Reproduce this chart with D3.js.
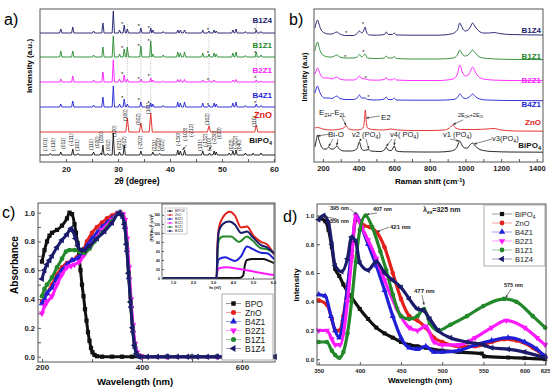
<!DOCTYPE html>
<html>
<head>
<meta charset="utf-8">
<script src="https://cdn.jsdelivr.net/npm/d3@7"></script>
<style>
body { margin: 0; background: #fff; }
svg { font-family: "Liberation Sans", Arial, sans-serif; }
</style>
</head>
<body>
<svg id="fig" width="550" height="391"></svg>
<script>
// ---------- shared ----------
const samples = ["BiPO4", "ZnO", "B4Z1", "B2Z1", "B1Z1", "B1Z4"];
const colors  = ["#111111", "#e3201b", "#1f1fd6", "#ff19ff", "#22882a", "#1b1b6b"];

// ---------- a) XRD : peaks [2theta, height] ----------
const xrdBiPO4 = [[17.0,1.5],[19.0,3],[21.3,6],[22.3,1.5],[25.3,3],[26.7,2],[27.1,10],[28.0,1.5],[29.1,22],[30.3,3],[31.2,10],[34.4,4],[36.7,3],[38.0,1.5],[41.5,5],[42.0,4],[42.8,5],[46.3,4],[47.6,2],[48.5,4],[48.9,3],[51.4,2],[52.1,4],[52.7,5],[54.5,2],[56.0,2],[57.5,2]];
const xrdZnO   = [[31.8,14],[34.4,9],[36.3,19],[47.5,6],[56.6,7]];
const xrdB4Z1  = [[19.0,3],[21.3,6],[25.3,2],[27.1,10],[29.1,21],[30.3,3],[31.2,8],[31.8,3],[34.4,5],[36.3,4],[36.7,3],[38.7,1.5],[41.5,5],[42.0,4],[42.8,5],[46.3,4],[47.5,2],[48.5,4],[48.9,3],[52.1,4],[52.7,5],[54.5,1.5],[56.6,3],[57.5,1.5]];
const xrdB2Z1  = [[19.0,3],[21.3,6],[25.3,2],[27.1,10],[29.1,22],[30.3,3],[31.2,7],[31.8,3],[34.4,3],[36.3,4],[36.7,2],[38.7,1],[41.5,2.5],[42.0,2.5],[42.8,2.5],[46.3,2],[47.5,1.5],[48.5,2],[52.1,2],[52.7,2.5],[56.6,2],[57.5,1]];
const xrdB1Z1  = [[19.0,6],[21.3,6],[25.3,2],[27.1,10],[29.1,21],[30.3,3],[31.2,8],[31.8,10],[34.4,11],[36.3,16],[36.7,3],[38.7,2],[41.5,5],[42.0,4],[42.8,5],[46.3,4],[47.5,3],[48.5,4],[48.9,3],[52.1,4],[52.7,5],[54.5,1.5],[56.6,5],[57.5,2]];
const xrdB1Z4  = [[19.0,4],[21.3,6],[25.3,2],[27.1,10],[29.1,22],[30.3,3],[31.2,8],[31.8,4],[34.4,5],[36.3,5],[36.7,3],[38.7,1.5],[41.5,3],[42.0,3],[42.8,3],[46.3,3],[47.5,2],[48.5,3],[48.9,2],[52.1,3],[52.7,4],[54.5,1.5],[56.6,3],[57.5,1.5]];
const xrdOffset = [7, 30, 55, 80, 105, 129];
const znoLines = [31.8, 34.4, 36.3, 47.5, 56.6];
const starPos  = [30.8, 34.0, 35.9, 47.3, 56.4];
const starLift = [null, null, [10,8,5,3,5], [9,4,7,3,5], [10,12,17,5,5], [10,8,6,4,4]];
const hklBiPO4 = [["(-101)",16.0,151],["(-110)",17.5,151],["(011)",19.4,149],["(-111)",21.0,146],["(101)",22.2,151],["(111)",24.8,150],["(020)",26.0,148],["(200)",26.8,143],["(002)",28.1,151],["(120)",29.2,137],["(021)",30.2,150],["(012)",31.2,148],["(-202)",34.3,149],["(211)",37.0,151],["(-220)",37.8,151],["(022)",38.6,151],["(-130)",41.6,146],["(-103)",43.0,141],["(-212)",44.0,137],["(131)",45.9,151],["(-132)",46.7,147],["(-310)",47.6,151],["(-230)",48.6,144],["(033)",49.5,139],["(023)",51.7,151],["(-322)",52.6,149],["(040)",53.4,151]];
const hklZnO = [["(100)",31.3,121],["(002)",33.9,125],["(101)",35.8,114],["(102)",47.1,125],["(110)",56.2,127]];

// ---------- b) Raman : [shift, intensity] ----------
const ramBiPO4 = [[155,6],[162,12],[170,18],[178,13],[190,7],[205,4],[220,4],[232,6],[245,4],[260,4],[278,7],[292,4],[320,2],[360,2],[390,4],[405,11],[415,5],[430,2.5],[455,3.5],[470,2],[520,1.5],[545,3],[555,6],[565,3],[585,2.5],[600,7],[612,2],[650,1.2],[750,1],[850,1],[920,2],[950,5],[968,12],[980,8],[995,5],[1010,5],[1025,8],[1040,10],[1055,7],[1075,4],[1100,2.5],[1150,1.5],[1250,1],[1435,0.8]];
const ramZnO   = [[155,4],[170,4.5],[200,3],[250,2],[300,3],[320,4.5],[332,6],[345,3],[380,2],[410,2.5],[428,5],[434,14],[438,22],[442,13],[450,4],[480,2.5],[540,2],[580,3],[620,2],[700,1.5],[800,1.5],[880,2],[910,4],[930,7],[945,4],[980,2.5],[1050,2.5],[1120,3],[1160,3.5],[1200,2],[1280,1],[1435,0.8]];
const ramB4Z1  = [[155,8],[162,12],[170,15],[178,11],[190,6],[210,3],[232,3],[250,2.5],[278,5],[295,2.5],[330,1.5],[370,1.5],[392,3],[405,6],[416,3],[437,3],[450,1.5],[500,1],[545,2],[555,4],[567,1.5],[590,1.5],[600,3],[612,1],[700,0.8],[850,0.8],[930,1.5],[955,3.5],[968,7],[985,3.5],[1000,2.5],[1025,4.5],[1040,7],[1058,4],[1080,2],[1120,1],[1250,0.5],[1435,0.3]];
const ramB2Z1  = [[155,7],[162,10],[170,13],[178,10],[190,5],[210,3],[232,3],[250,2],[278,4],[295,2],[330,1],[370,1],[392,2.5],[405,5],[416,2.5],[440,2],[460,1],[500,0.8],[545,1.5],[555,3.5],[567,1.2],[590,1.2],[600,2.5],[612,1],[700,0.5],[850,0.5],[930,2],[955,7],[968,16],[982,9],[998,5],[1015,6],[1030,11],[1040,14],[1055,9],[1075,4],[1100,2],[1150,1],[1250,0.5],[1435,0.3]];
const ramB1Z1  = [[155,9],[162,15],[170,18],[178,13],[190,7],[210,4],[232,3],[250,3],[278,5],[295,3],[325,2],[370,2],[392,3],[405,5.5],[418,3],[437,6],[450,2],[500,1.5],[545,2],[555,4],[567,2],[590,2],[600,3.5],[612,1.5],[700,1],[850,1],[930,2],[955,5],[968,10],[982,6],[998,4],[1015,5],[1030,8],[1040,10],[1055,7],[1075,3.5],[1100,2],[1150,1.2],[1250,0.6],[1435,0.4]];
const ramB1Z4  = [[155,8],[162,13],[170,16],[178,12],[190,6],[210,3],[232,2],[250,2],[278,4],[295,2],[330,0.5],[370,0.5],[392,2.5],[405,5],[418,3],[430,6],[437,9],[444,4],[460,1],[500,0.8],[545,1.5],[555,4],[567,1.5],[590,1.5],[600,3],[612,1],[700,0.8],[850,0.8],[920,2],[955,6],[968,13],[982,8],[998,5],[1015,6],[1030,10],[1040,13],[1055,9],[1075,5],[1100,3],[1130,3],[1160,3.5],[1190,2.5],[1250,1.5],[1435,1]];
const ramOffset = [9, 30, 61, 81, 102, 126];
const ramStars  = [[2,455,5],[3,440,4],[4,325,4],[4,428,9],[5,330,4],[5,425,13]];

// ---------- c) UV-vis absorbance : [nm, abs] ----------
const absBiPO4 = [[200,0.66],[205,0.74],[210,0.8],[215,0.84],[220,0.86],[230,0.88],[240,0.91],[250,0.96],[255,1.0],[260,0.99],[265,0.92],[268,0.86],[271,0.79],[274,0.7],[277,0.6],[280,0.5],[283,0.42],[286,0.33],[289,0.25],[292,0.17],[295,0.11],[298,0.06],[301,0.03],[305,0.012],[310,0.003],[320,0],[340,0],[360,0],[380,0],[400,0]];
const absZnO   = [[200,0.38],[210,0.44],[220,0.5],[230,0.57],[240,0.62],[250,0.65],[260,0.67],[270,0.69],[280,0.72],[290,0.8],[300,0.86],[310,0.9],[320,0.93],[330,0.96],[340,0.98],[350,0.995],[357,1.0],[362,0.97],[366,0.9],[370,0.75],[374,0.55],[378,0.35],[382,0.18],[386,0.07],[390,0.02],[395,0.005],[400,0],[450,0],[500,0],[550,0],[600,0],[660,0]];
const absB4Z1  = [[200,0.37],[205,0.4],[210,0.44],[220,0.48],[230,0.55],[240,0.6],[250,0.64],[260,0.67],[270,0.68],[280,0.72],[290,0.77],[300,0.82],[310,0.86],[320,0.9],[330,0.93],[340,0.96],[350,0.99],[356,1.0],[362,0.97],[366,0.9],[370,0.74],[374,0.55],[378,0.35],[382,0.18],[386,0.07],[390,0.02],[396,0],[450,0],[500,0],[550,0],[600,0],[660,0]];
const absB2Z1  = [[200,0.3],[205,0.35],[210,0.38],[220,0.42],[230,0.5],[240,0.57],[250,0.62],[258,0.63],[265,0.64],[275,0.66],[285,0.71],[300,0.78],[320,0.88],[340,0.95],[355,1.0],[362,0.99],[366,0.95],[370,0.82],[374,0.62],[378,0.4],[382,0.22],[386,0.09],[390,0.03],[396,0.005],[400,0],[450,0],[500,0],[550,0],[600,0],[660,0]];
const absB1Z1  = [[200,0.42],[205,0.47],[210,0.5],[220,0.55],[230,0.62],[240,0.68],[248,0.73],[255,0.74],[265,0.74],[275,0.73],[285,0.72],[295,0.75],[305,0.8],[320,0.86],[340,0.94],[355,1.0],[360,0.98],[365,0.92],[369,0.78],[373,0.58],[377,0.38],[381,0.2],[385,0.08],[389,0.02],[395,0],[450,0],[500,0],[550,0],[600,0],[660,0]];
const absB1Z4  = [[200,0.54],[205,0.6],[210,0.64],[215,0.67],[220,0.7],[230,0.76],[240,0.81],[250,0.85],[258,0.89],[262,0.87],[267,0.82],[272,0.77],[278,0.74],[285,0.74],[295,0.77],[310,0.82],[325,0.87],[340,0.93],[355,1.0],[360,0.98],[365,0.92],[369,0.78],[373,0.58],[377,0.38],[381,0.2],[385,0.08],[389,0.02],[395,0],[410,0],[430,0],[450,0],[470,0],[490,0],[510,0],[530,0],[550,0],[570,0],[590,0],[610,0],[630,0],[650,0],[666,0]];

// inset: Tauc plot [eV, value]
const taucBiPO4 = [[0.5,0],[4.3,0],[4.5,5],[4.6,30],[4.7,40],[5.0,42],[5.5,42],[5.8,38],[6.05,33]];
const taucZnO   = [[0.5,0],[3.18,0],[3.22,70],[3.3,112],[3.5,135],[3.85,147],[4.1,138],[4.4,112],[4.7,114],[5.0,95],[5.4,80],[5.7,75],[6.05,52]];
const taucB4Z1  = [[0.5,0],[3.18,0],[3.22,30],[3.3,42],[3.6,46],[4.1,38],[4.4,48],[4.7,70],[5.0,64],[5.4,56],[5.7,55],[6.05,42]];
const taucB2Z1  = [[0.5,0],[3.18,0],[3.22,15],[3.3,22],[3.7,24],[4.1,22],[4.6,18],[5.2,13],[5.7,9],[6.05,7]];
const taucB1Z1  = [[0.5,0],[3.18,0],[3.22,50],[3.3,85],[3.5,92],[3.9,92],[4.3,80],[4.7,92],[5.0,82],[5.4,66],[5.7,64],[6.05,55]];
const taucB1Z4  = [[0.5,0],[3.18,0],[3.22,60],[3.3,105],[3.5,120],[3.8,125],[4.1,118],[4.4,100],[4.7,103],[5.0,90],[5.4,73],[5.7,68],[6.05,55]];

// ---------- d) PL : [nm, intensity] ----------
const plBiPO4 = [[352,0.98],[358,0.96],[362,0.9],[366,0.78],[370,0.63],[375,0.58],[380,0.52],[390,0.43],[400,0.35],[410,0.28],[420,0.22],[430,0.18],[440,0.15],[450,0.12],[460,0.1],[470,0.09],[480,0.08],[500,0.06],[520,0.05],[548,0.04],[551,0.02],[580,0.012],[600,0.008],[625,0.0]];
const plZnO   = [[350,0.41],[360,0.38],[366,0.28],[370,0.2],[375,0.2],[380,0.3],[385,0.5],[390,0.72],[395,0.97],[400,0.96],[405,0.93],[412,0.92],[421,0.88],[430,0.78],[440,0.6],[450,0.42],[460,0.3],[470,0.27],[480,0.22],[490,0.15],[500,0.12],[520,0.09],[540,0.09],[560,0.12],[575,0.14],[590,0.13],[610,0.08],[625,0.02]];
const plB4Z1  = [[350,0.45],[358,0.44],[365,0.3],[370,0.2],[375,0.15],[380,0.28],[385,0.5],[390,0.76],[396,1.0],[402,0.92],[410,0.8],[420,0.65],[430,0.48],[440,0.3],[450,0.15],[460,0.08],[470,0.07],[480,0.09],[490,0.05],[500,0.05],[520,0.06],[540,0.1],[560,0.13],[580,0.15],[600,0.12],[615,0.07],[625,0.02]];
const plB2Z1  = [[350,0.2],[360,0.2],[366,0.14],[370,0.1],[376,0.1],[385,0.4],[390,0.7],[395,1.0],[402,0.92],[410,0.83],[420,0.7],[430,0.55],[445,0.35],[460,0.22],[470,0.2],[480,0.23],[490,0.12],[500,0.1],[520,0.1],[540,0.15],[560,0.22],[578,0.27],[600,0.22],[615,0.15],[625,0.1]];
const plB1Z1  = [[350,0.12],[360,0.12],[366,0.06],[370,0.03],[375,0.01],[380,0.05],[385,0.18],[390,0.4],[395,0.68],[400,0.9],[407,1.0],[415,0.92],[425,0.75],[432,0.62],[440,0.45],[450,0.3],[460,0.28],[470,0.3],[478,0.35],[485,0.25],[495,0.2],[510,0.24],[530,0.3],[550,0.37],[575,0.42],[590,0.4],[610,0.3],[625,0.22]];
const plB1Z4  = [[350,0.97],[356,1.0],[362,0.95],[366,0.8],[370,0.65],[378,0.61],[385,0.7],[390,0.85],[395,0.82],[400,0.67],[410,0.62],[420,0.68],[430,0.6],[440,0.55],[450,0.5],[460,0.42],[470,0.35],[477,0.34],[485,0.28],[495,0.2],[510,0.15],[530,0.12],[550,0.1],[560,0.08],[580,0.07],[600,0.05],[625,0.01]];

// ---------- helpers ----------
const svg = d3.select("#fig");

function frame(x0, y0, x1, y1, col) {
  svg.append("rect")
    .attr("x", x0).attr("y", y0).attr("width", x1 - x0).attr("height", y1 - y0)
    .attr("fill", "none").attr("stroke", col || "#444").attr("stroke-width", 0.9);
}

function styleAxis(g, fs) {
  g.select(".domain").remove();
  g.selectAll("line").attr("stroke", "#333").attr("stroke-width", 0.8);
  g.selectAll("text").attr("font-size", fs).attr("font-weight", "bold").attr("fill", "#222");
}

// text with sub/superscripts: parts = ["txt", ["4","sub"], ...]
function rich(g, x, y, parts, fs, attrs) {
  const t = g.append("text").attr("x", x).attr("y", y).attr("font-size", fs);
  Object.entries(attrs || {}).forEach(([k, v]) => t.attr(k, v));
  parts.forEach(p => {
    if (typeof p === "string") t.append("tspan").text(p);
    else t.append("tspan").attr("baseline-shift", p[1] === "sub" ? "-30%" : "40%")
      .attr("font-size", fs * 0.7).text(p[0]);
  });
  return t;
}
function nameParts(s) { return s === "BiPO4" ? ["BiPO", ["4", "sub"]] : [s]; }

function arrow(g, x1, y1, x2, y2) {
  g.append("line").attr("x1", x1).attr("y1", y1).attr("x2", x2).attr("y2", y2)
    .attr("stroke", "#333").attr("stroke-width", 0.6);
  const a = Math.atan2(y2 - y1, x2 - x1);
  const p = [[x2, y2], [x2 - 3 * Math.cos(a - 0.4), y2 - 3 * Math.sin(a - 0.4)], [x2 - 3 * Math.cos(a + 0.4), y2 - 3 * Math.sin(a + 0.4)]];
  g.append("path").attr("d", d3.line()(p) + "Z").attr("fill", "#333");
}

const symTypes = [d3.symbolSquare, d3.symbolCircle, d3.symbolTriangle, d3.symbolTriangle, d3.symbolCircle, d3.symbolTriangle];
const symRot = [0, 0, 0, 180, 0, -90];

// =============== panel a ===============
const xA = d3.scaleLinear().domain([15, 60.2]).range([40, 275]);
const yA = d3.scaleLinear().domain([0, 153]).range([162, 9]);
const gA = svg.append("g");
const xrdAll = [xrdBiPO4, xrdZnO, xrdB4Z1, xrdB2Z1, xrdB1Z1, xrdB1Z4];

// dotted guides through the ZnO reflections
znoLines.forEach(v => {
  gA.append("line").attr("x1", xA(v)).attr("x2", xA(v)).attr("y1", 126).attr("y2", 24)
    .attr("stroke", "#999").attr("stroke-width", 0.6).attr("stroke-dasharray", "1,1.3");
});

xrdAll.forEach((peaks, i) => {
  const w = i === 1 ? 0.3 : 0.22;
  const pts = [[15, 0]];
  peaks.forEach(([p, h]) => pts.push([p - w, 0], [p, h], [p + w, 0]));
  pts.push([60.2, 0]);
  gA.append("path").datum(pts)
    .attr("d", d3.line().x(d => xA(d[0])).y(d => yA(d[1] + xrdOffset[i])))
    .attr("fill", "none").attr("stroke", colors[i]).attr("stroke-width", 0.9);
});

starLift.forEach((lifts, i) => {
  if (!lifts) return;
  lifts.forEach((l, k) => {
    gA.append("text").attr("x", xA(starPos[k])).attr("y", yA(xrdOffset[i] + l) + 3)
      .attr("text-anchor", "middle").attr("font-size", 6).attr("fill", "#222").text("*");
  });
});

hklBiPO4.forEach(([t, v, yb]) => {
  gA.append("text").attr("transform", `translate(${xA(v) + 1.8},${yb}) rotate(-90)`)
    .attr("font-size", 5).attr("fill", "#222").text(t);
});
hklZnO.forEach(([t, v, yb]) => {
  gA.append("text").attr("transform", `translate(${xA(v) + 1.8},${yb}) rotate(-90)`)
    .attr("font-size", 5).attr("fill", "#222").text(t);
});
// little arrows to the crowded hkl groups
arrow(gA, xA(43.2), 145, xA(42.4), 150);
arrow(gA, xA(48.0), 146, xA(47.5), 150);

const labA = [[143, "BiPO4"], [118, "ZnO"], [98, "B4Z1"], [73, "B2Z1"], [48, "B1Z1"], [23, "B1Z4"]];
labA.forEach(([y, s]) => {
  const i = samples.indexOf(s);
  rich(gA, 272, y, nameParts(s), s === "ZnO" ? 9 : 8,
    { "text-anchor": "end", "font-weight": "bold", fill: colors[i] });
});

frame(40, 9, 275, 162);
const axA = gA.append("g").attr("transform", "translate(0,162)")
  .call(d3.axisBottom(xA).tickValues([20, 25, 30, 35, 40, 45, 50, 55, 60])
    .tickSize(-3).tickPadding(4).tickFormat(d => d % 10 === 0 ? d : ""));
styleAxis(axA, 8);
gA.append("text").attr("x", 137).attr("y", 184).attr("text-anchor", "middle")
  .attr("font-size", 8.5).attr("font-weight", "bold").text("2θ (degree)");
gA.append("text").attr("transform", "translate(32,66) rotate(-90)").attr("text-anchor", "middle")
  .attr("font-size", 8).attr("font-weight", "bold").text("Intensity (a.u.)");
gA.append("text").attr("x", 4).attr("y", 25).attr("font-size", 16).text("a)");

// =============== panel b ===============
const xB = d3.scaleLinear().domain([150, 1435]).range([314, 543]);
const yB = d3.scaleLinear().domain([0, 153]).range([162, 9]);
const gB = svg.append("g");
const ramAll = [ramBiPO4, ramZnO, ramB4Z1, ramB2Z1, ramB1Z1, ramB1Z4];

ramAll.forEach((pts, i) => {
  gB.append("path").datum(pts)
    .attr("d", d3.line().curve(d3.curveMonotoneX).x(d => xB(d[0])).y(d => yB(d[1] + ramOffset[i])))
    .attr("fill", "none").attr("stroke", colors[i]).attr("stroke-width", 0.9);
});
ramStars.forEach(([i, v, l]) => {
  gB.append("text").attr("x", xB(v)).attr("y", yB(ramOffset[i] + l) + 3)
    .attr("text-anchor", "middle").attr("font-size", 6).attr("fill", "#222").text("*");
});

const labB = [[148, "BiPO4"], [125, "ZnO"], [107, "B4Z1"], [83, "B2Z1"], [59, "B1Z1"], [33, "B1Z4"]];
labB.forEach(([y, s]) => {
  const i = samples.indexOf(s);
  rich(gB, 541, y, nameParts(s), 8, { "text-anchor": "end", "font-weight": "bold", fill: colors[i] });
});

// mode annotations
rich(gB, 319, 115, ["E", ["2H", "sub"], "-E", ["2L", "sub"]], 8, { fill: "#222" });
arrow(gB, 342, 117, xB(330), yB(30 + 6.5));
rich(gB, 381, 120, ["E2"], 8, { fill: "#222" });
arrow(gB, 380, 116, xB(442), yB(30 + 14));
rich(gB, 458, 117, ["2E", ["2H", "sub"], "+2E", ["2L", "sub"]], 5.5, { fill: "#222" });
arrow(gB, 463, 120, xB(930), yB(30 + 7.5));
rich(gB, 328, 137, ["Bi-O"], 8, { fill: "#222" });
arrow(gB, 330, 134, xB(170), yB(9 + 17));
arrow(gB, 333, 139, xB(232), yB(9 + 6.5));
arrow(gB, 338, 139, xB(278), yB(9 + 7.5));
rich(gB, 352, 137, ["v2 (PO", ["4", "sub"], ")"], 7.5, { fill: "#222" });
arrow(gB, 361, 139, xB(405), yB(9 + 11.5));
arrow(gB, 366, 139, xB(458), yB(9 + 4));
rich(gB, 390, 137, ["v4( PO", ["4", "sub"], ")"], 7.5, { fill: "#222" });
arrow(gB, 392, 139, xB(555), yB(9 + 6.5));
arrow(gB, 395, 139, xB(600), yB(9 + 7.5));
rich(gB, 443, 137, ["v1 (PO", ["4", "sub"], ")"], 7.5, { fill: "#222" });
arrow(gB, 450, 139, xB(965), yB(9 + 12));
rich(gB, 492, 141, ["v3(PO", ["4", "sub"], ")"], 7.5, { fill: "#222" });
arrow(gB, 492, 139, xB(1048), yB(9 + 9));

frame(314, 9, 543, 162);
const axB = gB.append("g").attr("transform", "translate(0,162)")
  .call(d3.axisBottom(xB).tickValues(d3.range(200, 1401, 100))
    .tickSize(-3).tickPadding(4).tickFormat(d => d % 200 === 0 ? d : ""));
styleAxis(axB, 7.5);
rich(gB, 430, 184, ["Raman shift (cm", ["-1", "sup"], ")"], 8, { "text-anchor": "middle", "font-weight": "bold" });
gB.append("text").attr("transform", "translate(307,77) rotate(-90)").attr("text-anchor", "middle")
  .attr("font-size", 7.5).attr("font-weight", "bold").text("Intensity (a.u)");
gB.append("text").attr("x", 289).attr("y", 25).attr("font-size", 16).text("b)");

// =============== panel c ===============
const xC = d3.scaleLinear().domain([192, 666]).range([38, 275]);
const yC = d3.scaleLinear().domain([-0.037, 1.067]).range([362, 203]);
const gC = svg.append("g");
const absAll = [absBiPO4, absZnO, absB4Z1, absB2Z1, absB1Z1, absB1Z4];

absAll.forEach((pts, i) => {
  gC.append("path").datum(pts)
    .attr("d", d3.line().curve(d3.curveMonotoneX).x(d => xC(d[0])).y(d => yC(d[1])))
    .attr("fill", "none").attr("stroke", colors[i]).attr("stroke-width", 3);
  gC.selectAll(null).data(pts).join("path")
    .attr("transform", d => `translate(${xC(d[0])},${yC(d[1])}) rotate(${symRot[i]})`)
    .attr("d", d3.symbol(symTypes[i], 18)).attr("fill", colors[i]);
});

frame(38, 203, 275, 362);
const axCx = gC.append("g").attr("transform", "translate(0,362)")
  .call(d3.axisBottom(xC).tickValues([200, 300, 400, 500, 600])
    .tickSize(-3).tickPadding(2).tickFormat(d => d % 200 === 0 ? d : ""));
styleAxis(axCx, 8);
gC.append("text").attr("x", 135).attr("y", 385).attr("text-anchor", "middle")
  .attr("font-size", 9.5).attr("font-weight", "bold").text("Wavelength (nm)");
const axCy = gC.append("g").attr("transform", "translate(38,0)")
  .call(d3.axisLeft(yC).tickValues(d3.range(0, 1.01, 0.1))
    .tickSize(-3).tickPadding(3).tickFormat(d => Math.round(d * 10) % 2 === 0 ? d3.format(".1f")(d) : ""));
styleAxis(axCy, 7.5);
gC.append("text").attr("transform", "translate(18,265) rotate(-90)").attr("text-anchor", "middle")
  .attr("font-size", 10).attr("font-weight", "bold").text("Absorbance");
gC.append("text").attr("x", 2).attr("y", 218).attr("font-size", 16).text("c)");

// legend c (drawn after the curves, on top)
const legC = svg.append("g");
legC.append("rect").attr("x", 222).attr("y", 294).attr("width", 51).attr("height", 66)
  .attr("fill", "#fff").attr("stroke", "#888").attr("stroke-width", 0.7);
["BPO", "ZnO", "B4Z1", "B2Z1", "B1Z1", "B1Z4"].forEach((s, i) => {
  const y = 303.5 + i * 9;
  legC.append("line").attr("x1", 226).attr("x2", 241).attr("y1", y).attr("y2", y)
    .attr("stroke", colors[i]).attr("stroke-width", 0.7).attr("opacity", 0.6);
  legC.append("path").attr("transform", `translate(233.5,${y}) rotate(${symRot[i]})`)
    .attr("d", d3.symbol(symTypes[i], 20)).attr("fill", colors[i]);
  legC.append("text").attr("x", 245).attr("y", y + 3).attr("font-size", 8.5).attr("fill", "#222").text(s);
});

// inset (Tauc)
const xI = d3.scaleLinear().domain([0.45, 6.05]).range([162, 274]);
const yI = d3.scaleLinear().domain([-2, 164]).range([279, 204]);
const gI = svg.append("g");
gI.append("rect").attr("x", 162).attr("y", 204).attr("width", 112).attr("height", 75).attr("fill", "#fff");
[taucBiPO4, taucZnO, taucB4Z1, taucB2Z1, taucB1Z1, taucB1Z4].forEach((pts, i) => {
  gI.append("path").datum(pts)
    .attr("d", d3.line().curve(d3.curveMonotoneX).x(d => xI(d[0])).y(d => yI(d[1])))
    .attr("fill", "none").attr("stroke", colors[i]).attr("stroke-width", 2);
});
frame(162, 204, 274, 279, "#555");
const axIx = gI.append("g").attr("transform", "translate(0,279)")
  .call(d3.axisBottom(xI).tickValues([1, 2, 3, 4, 5, 6]).tickSize(-2).tickPadding(2));
styleAxis(axIx, 4);
const axIy = gI.append("g").attr("transform", "translate(162,0)")
  .call(d3.axisLeft(yI).tickValues(d3.range(0, 141, 20)).tickSize(-2).tickPadding(2));
styleAxis(axIy, 3.5);
gI.append("text").attr("x", 215).attr("y", 289).attr("text-anchor", "middle")
  .attr("font-size", 3.5).attr("font-weight", "bold").text("hν (eV)");
rich(gI, 0, 0, ["[F(R)hν]", ["2", "sup"], " (eV)", ["2", "sup"]], 4,
  { transform: "translate(153,228) rotate(-90)", "text-anchor": "middle", "font-weight": "bold" });
gI.append("rect").attr("x", 165).attr("y", 208).attr("width", 22).attr("height", 26)
  .attr("fill", "#fff").attr("stroke", "#888").attr("stroke-width", 0.4);
["BiPO4", "ZnO", "B4Z1", "B2Z1", "B1Z1", "B1Z4"].forEach((s, i) => {
  const y = 211 + i * 4;
  gI.append("line").attr("x1", 167).attr("x2", 173).attr("y1", y).attr("y2", y)
    .attr("stroke", colors[i]).attr("stroke-width", 0.7);
  gI.append("circle").attr("cx", 170).attr("cy", y).attr("r", 0.9).attr("fill", colors[i]);
  gI.append("text").attr("x", 175).attr("y", y + 1.2).attr("font-size", 3.3).attr("fill", "#333").text(s);
});

// =============== panel d ===============
const xD = d3.scaleLinear().domain([348, 626]).range([317, 546]);
const yD = d3.scaleLinear().domain([-0.04, 1.08]).range([365, 204]);
const gD = svg.append("g");
const plAll = [plBiPO4, plZnO, plB4Z1, plB2Z1, plB1Z1, plB1Z4];

plAll.forEach((pts, i) => {
  gD.append("path").datum(pts)
    .attr("d", d3.line().curve(d3.curveMonotoneX).x(d => xD(d[0])).y(d => yD(d[1])))
    .attr("fill", "none").attr("stroke", colors[i]).attr("stroke-width", 3.2);
  gD.selectAll(null).data(pts).join("path")
    .attr("transform", d => `translate(${xD(d[0])},${yD(d[1])}) rotate(${symRot[i]})`)
    .attr("d", d3.symbol(symTypes[i], 16)).attr("fill", colors[i]);
});

frame(317, 204, 546, 365);
const axDx = gD.append("g").attr("transform", "translate(0,365)")
  .call(d3.axisBottom(xD).tickValues([350, 400, 450, 500, 550, 600, 625]).tickSize(-3).tickPadding(4));
styleAxis(axDx, 6);
const axDy = gD.append("g").attr("transform", "translate(317,0)")
  .call(d3.axisLeft(yD).tickValues(d3.range(0, 1.01, 0.2)).tickSize(-3).tickPadding(3).tickFormat(d3.format(".1f")));
styleAxis(axDy, 6);
gD.append("text").attr("x", 420).attr("y", 383).attr("text-anchor", "middle")
  .attr("font-size", 8).attr("font-weight", "bold").text("Wavelength (nm)");
gD.append("text").attr("transform", "translate(299,285) rotate(-90)").attr("text-anchor", "middle")
  .attr("font-size", 8).attr("font-weight", "bold").text("Intensity");
gD.append("text").attr("x", 283).attr("y", 222).attr("font-size", 16).text("d)");
rich(gD, 423, 212, ["λ", ["ex", "sub"], "=325 nm"], 7, { "font-weight": "bold", fill: "#222" });

// peak annotations
const ann = { "font-weight": "bold", fill: "#222" };
rich(gD, 330, 210, ["395 nm"], 5.5, ann);
arrow(gD, 350, 209, xD(396), yD(1.0) - 1);
rich(gD, 330, 223, ["356 nm"], 5.5, ann);
arrow(gD, 337, 219, xD(357), yD(1.0) + 1);
rich(gD, 373, 211, ["407 nm"], 5.5, ann);
arrow(gD, 377, 213, xD(408), yD(1.0) - 1);
rich(gD, 390, 229, ["421 nm"], 6, ann);
arrow(gD, 389, 227, xD(421), yD(0.88) - 1);
rich(gD, 414, 293, ["477 nm"], 6, ann);
arrow(gD, 422, 295, xD(478), yD(0.37) - 1);
rich(gD, 504, 287, ["575 nm"], 5.5, ann);
arrow(gD, 511, 289, xD(577), yD(0.42) - 1);

// legend d
const legD = svg.append("g");
legD.append("rect").attr("x", 484).attr("y", 205).attr("width", 61).attr("height", 61)
  .attr("fill", "#fff").attr("stroke", "#888").attr("stroke-width", 0.7);
samples.forEach((s, i) => {
  const y = 214 + i * 9;
  legD.append("line").attr("x1", 492).attr("x2", 512).attr("y1", y).attr("y2", y)
    .attr("stroke", colors[i]).attr("stroke-width", 0.7).attr("opacity", 0.6);
  legD.append("path").attr("transform", `translate(502,${y}) rotate(${symRot[i]})`)
    .attr("d", d3.symbol(symTypes[i], 18)).attr("fill", colors[i]);
  rich(legD, 515, y + 2.8, nameParts(s), 7.5, { fill: "#222" });
});
</script>
</body>
</html>
